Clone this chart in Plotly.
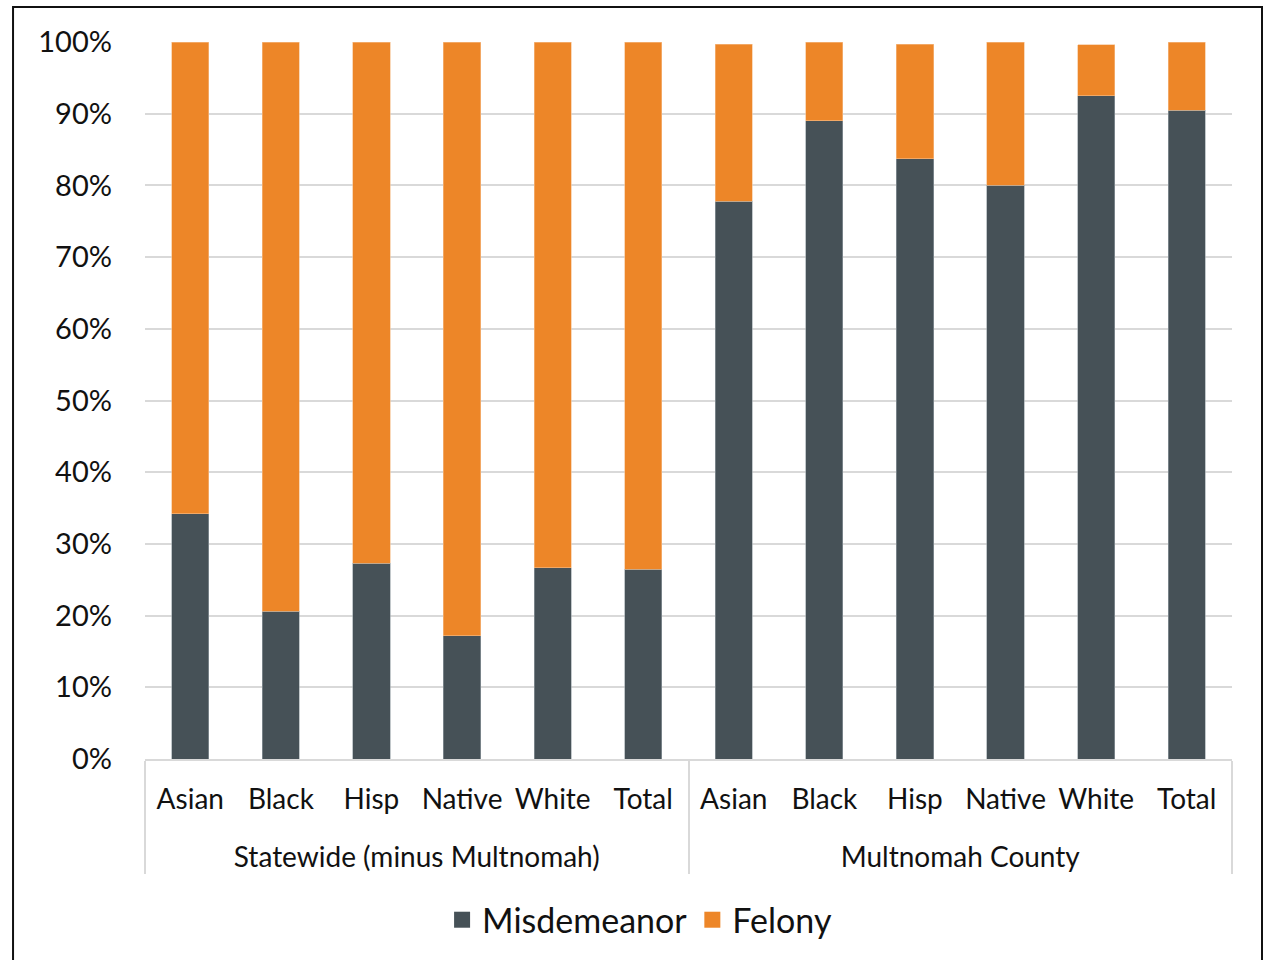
import plotly.graph_objects as go

# Regions and race/ethnicity categories
regions = ["Statewide (minus Multnomah)"] * 6 + ["Multnomah County"] * 6
groups = ["Asian", "Black", "Hisp", "Native", "White", "Total"] * 2

# Share of cases by charge level (%)
misdemeanor = [34.2, 20.6, 27.3, 17.2, 26.7, 26.5,
               77.8, 89.0, 83.7, 80.0, 92.5, 90.5]
felony = [65.8, 79.4, 72.7, 82.8, 73.3, 73.5,
          21.9, 11.0, 16.0, 20.0, 7.1, 9.5]

ytick_vals = list(range(0, 101, 10))
ytick_text = [f"{v}%" for v in ytick_vals]

COLORS = {"Misdemeanor": "#465157", "Felony": "#ED8628"}
EDGES = {"Misdemeanor": "#9aa3a8", "Felony": "#f5c08e"}

FONT = "Lato, 'Open Sans', sans-serif"

# Extra blank line under each category label leaves room above the region row
x_cats = [regions, [g + "<br> " for g in groups]]

fig = go.Figure()
for name, vals in (("Misdemeanor", misdemeanor), ("Felony", felony)):
    fig.add_trace(go.Bar(
        x=x_cats, y=vals, name=name, showlegend=False, legendgroup=name,
        marker=dict(color=COLORS[name], line=dict(color=EDGES[name], width=0.6)),
    ))
# Legend keys with larger square swatches
for name in ("Misdemeanor", "Felony"):
    fig.add_trace(go.Scatter(
        x=[[regions[0]], [groups[0] + "<br> "]], y=[None], name=name,
        mode="markers", legendgroup=name, hoverinfo="skip",
        marker=dict(symbol="square", size=20, color=COLORS[name]),
    ))

fig.update_layout(
    barmode="stack",
    bargap=0.59,
    width=1270, height=960,
    margin=dict(l=145, r=38, t=42, b=200),
    paper_bgcolor="white", plot_bgcolor="white",
    font=dict(family=FONT, color="#111111", size=28),
    showlegend=True,
    legend=dict(orientation="h", x=0.455, xanchor="center",
                y=-0.223, yanchor="middle", font=dict(size=34),
                itemsizing="trace", itemwidth=30, traceorder="normal"),
    shapes=[dict(type="rect", xref="paper", yref="paper",
                 x0=-0.1214, x1=1.0276, y0=-0.3, y1=1.0487,
                 line=dict(color="#111111", width=2), layer="above")],
)

fig.update_yaxes(
    range=[0, 100], tickvals=ytick_vals, ticktext=ytick_text,
    showgrid=True, gridcolor="#d9d9d9", gridwidth=1.5,
    zeroline=False, showline=False, ticks="",
    tickfont=dict(size=29), ticklabelstandoff=32,
)
fig.update_xaxes(
    range=[-0.5, len(groups) - 0.5], autorange=False,
    showline=True, linecolor="#d9d9d9", linewidth=1.5,
    showdividers=True, dividercolor="#d9d9d9", dividerwidth=1.5,
    tickfont=dict(size=28), tickangle=0, ticks="", ticklabelstandoff=15,
)

fig.write_html("out.html")
